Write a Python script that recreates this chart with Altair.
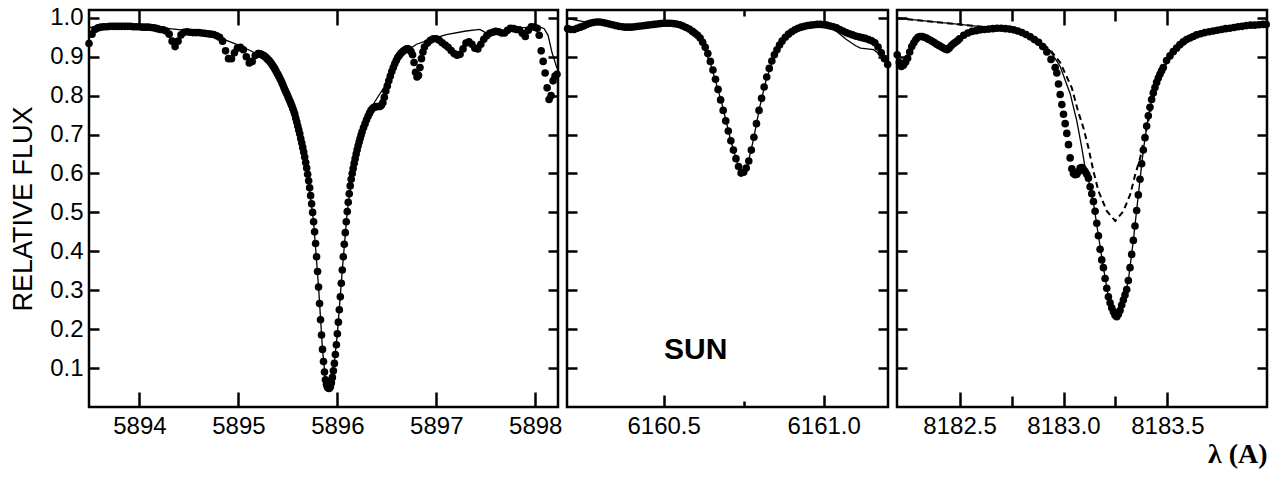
import altair as alt
import pandas as pd

# ---------------- Panel 1 : 5893.5 - 5898.2 A ----------------
na_obs_wl = [
    5893.49, 5893.52, 5893.55, 5893.58, 5893.61, 5893.64, 5893.67, 5893.70, 5893.73, 5893.76,
    5893.79, 5893.82, 5893.85, 5893.88, 5893.91, 5893.94, 5893.97, 5894.00, 5894.03, 5894.06,
    5894.09, 5894.12, 5894.15, 5894.18, 5894.21, 5894.24, 5894.27, 5894.30, 5894.33, 5894.36,
    5894.39, 5894.42, 5894.45, 5894.48, 5894.51, 5894.54, 5894.57, 5894.60, 5894.63, 5894.66,
    5894.69, 5894.72, 5894.75, 5894.78, 5894.81, 5894.84, 5894.87, 5894.90, 5894.93, 5894.96,
    5894.99, 5895.02, 5895.05, 5895.08, 5895.11, 5895.14, 5895.17,
    5895.20, 5895.21, 5895.22, 5895.23, 5895.24, 5895.25, 5895.26, 5895.27, 5895.28, 5895.29,
    5895.30, 5895.31, 5895.32, 5895.33, 5895.34, 5895.35, 5895.36, 5895.37, 5895.38, 5895.39,
    5895.40, 5895.41, 5895.42, 5895.43, 5895.44, 5895.45, 5895.46, 5895.47, 5895.48, 5895.49,
    5895.50, 5895.51, 5895.52, 5895.53, 5895.54, 5895.55, 5895.56, 5895.57, 5895.58, 5895.59,
    5895.60, 5895.61, 5895.62, 5895.63, 5895.64, 5895.65, 5895.66, 5895.67, 5895.68, 5895.69,
    5895.70, 5895.71, 5895.72, 5895.73, 5895.74, 5895.75, 5895.76, 5895.77, 5895.78, 5895.79,
    5895.80, 5895.81, 5895.82, 5895.83, 5895.84, 5895.85, 5895.86, 5895.87, 5895.88, 5895.89,
    5895.90, 5895.91, 5895.92, 5895.93, 5895.94, 5895.95, 5895.96, 5895.97, 5895.98, 5895.99,
    5896.00, 5896.01, 5896.02, 5896.03, 5896.04, 5896.05, 5896.06, 5896.07, 5896.08, 5896.09,
    5896.10, 5896.11, 5896.12, 5896.13, 5896.14, 5896.15, 5896.16, 5896.17, 5896.18, 5896.19,
    5896.20, 5896.21, 5896.22, 5896.23, 5896.24, 5896.25,
    5896.265, 5896.280, 5896.295, 5896.310, 5896.325, 5896.340, 5896.355, 5896.370, 5896.385, 5896.400,
    5896.415, 5896.430, 5896.445, 5896.460, 5896.475, 5896.490, 5896.505, 5896.520, 5896.535, 5896.550,
    5896.565, 5896.580, 5896.595, 5896.610, 5896.625, 5896.640, 5896.655, 5896.670, 5896.685, 5896.700,
    5896.715, 5896.730, 5896.745, 5896.760, 5896.775, 5896.790, 5896.805, 5896.820, 5896.835, 5896.850,
    5896.865,
    5896.88, 5896.91, 5896.94, 5896.97, 5897.00, 5897.03, 5897.06, 5897.09, 5897.12, 5897.15,
    5897.18, 5897.21, 5897.24, 5897.27, 5897.30, 5897.33, 5897.36, 5897.39, 5897.42, 5897.45,
    5897.48, 5897.51, 5897.54, 5897.57, 5897.60, 5897.63, 5897.66, 5897.69, 5897.72, 5897.75,
    5897.78, 5897.81, 5897.84, 5897.87, 5897.90, 5897.93, 5897.96, 5897.99, 5898.02,
    5898.04, 5898.06, 5898.08, 5898.10, 5898.12, 5898.14, 5898.16, 5898.18, 5898.20, 5898.22,
]
na_obs_flux = [
    0.934, 0.958, 0.970, 0.974, 0.976, 0.977, 0.977, 0.978, 0.978, 0.978,
    0.978, 0.978, 0.978, 0.978, 0.978, 0.977, 0.977, 0.977, 0.976, 0.976,
    0.976, 0.975, 0.974, 0.972, 0.970, 0.969, 0.966, 0.958, 0.940, 0.926,
    0.940, 0.956, 0.963, 0.964, 0.963, 0.962, 0.962, 0.962, 0.961, 0.960,
    0.959, 0.958, 0.957, 0.954, 0.950, 0.940, 0.915, 0.895, 0.895, 0.910,
    0.922, 0.924, 0.918, 0.900, 0.884, 0.888, 0.903,
    0.908, 0.908, 0.907, 0.906, 0.905, 0.903, 0.902, 0.900, 0.898, 0.895,
    0.892, 0.890, 0.887, 0.884, 0.880, 0.876, 0.872, 0.868, 0.863, 0.858,
    0.854, 0.849, 0.844, 0.839, 0.833, 0.827, 0.821, 0.815, 0.809, 0.804,
    0.798, 0.792, 0.786, 0.780, 0.774, 0.767, 0.760, 0.752, 0.742, 0.732,
    0.722, 0.712, 0.702, 0.690, 0.679, 0.667, 0.655, 0.642, 0.628, 0.614,
    0.598, 0.581, 0.563, 0.543, 0.522, 0.500, 0.476, 0.450, 0.420, 0.386,
    0.348, 0.308, 0.266, 0.224, 0.185, 0.148, 0.117, 0.090, 0.070, 0.058,
    0.051, 0.048, 0.048, 0.052, 0.062, 0.076, 0.093, 0.112, 0.135, 0.160,
    0.188, 0.218, 0.250, 0.283, 0.318, 0.352, 0.386, 0.418, 0.448, 0.476,
    0.502, 0.526, 0.548, 0.568, 0.585, 0.600, 0.613, 0.626, 0.638, 0.650,
    0.661, 0.671, 0.681, 0.690, 0.699, 0.707,
    0.718, 0.728, 0.738, 0.747, 0.755, 0.762, 0.767, 0.770, 0.771, 0.772,
    0.772, 0.772, 0.775, 0.782, 0.796, 0.812, 0.825, 0.838, 0.850, 0.862,
    0.872, 0.882, 0.890, 0.898, 0.903, 0.908, 0.912, 0.915, 0.918, 0.920,
    0.920, 0.918, 0.913, 0.905, 0.885, 0.860, 0.848, 0.852, 0.872, 0.895,
    0.912,
    0.925, 0.935, 0.942, 0.946, 0.946, 0.942, 0.936, 0.930, 0.924, 0.916,
    0.908, 0.904, 0.906, 0.920, 0.935, 0.938, 0.932, 0.922, 0.920, 0.932,
    0.945, 0.954, 0.960, 0.963, 0.965, 0.964, 0.961, 0.961, 0.968, 0.973,
    0.972, 0.970, 0.969, 0.960, 0.952, 0.968, 0.977, 0.976, 0.973,
    0.955, 0.915, 0.888, 0.858, 0.820, 0.790, 0.800, 0.838, 0.850, 0.855,
]
na_mod_wl = [
    5893.49, 5893.80, 5894.10, 5894.30, 5894.50, 5894.70, 5894.88, 5895.00, 5895.15, 5895.30,
    5895.45, 5895.55, 5895.62, 5895.69, 5895.76, 5895.81, 5895.85, 5895.88, 5895.92, 5895.96,
    5896.00, 5896.05, 5896.10, 5896.16, 5896.22, 5896.30, 5896.38, 5896.50, 5896.60, 5896.70,
    5896.80, 5896.95, 5897.10, 5897.30, 5897.44, 5897.54, 5897.60, 5897.75, 5897.95, 5898.05,
    5898.09, 5898.13, 5898.17, 5898.22,
]
na_mod_flux = [
    0.975, 0.979, 0.977, 0.972, 0.967, 0.962, 0.942, 0.930, 0.912, 0.888,
    0.835, 0.770, 0.702, 0.614, 0.476, 0.308, 0.148, 0.070, 0.048, 0.093,
    0.188, 0.352, 0.502, 0.613, 0.681, 0.742, 0.785, 0.832, 0.885, 0.915,
    0.932, 0.945, 0.957, 0.966, 0.970, 0.956, 0.962, 0.972, 0.976, 0.976,
    0.972, 0.955, 0.910, 0.870,
]

# ---------------- Panel 2 : 6160.2 - 6161.2 A ----------------
fe_obs_wl = [
    6160.20, 6160.21, 6160.22, 6160.23, 6160.24, 6160.25, 6160.26, 6160.27, 6160.28, 6160.29,
    6160.30, 6160.31, 6160.32, 6160.33, 6160.34, 6160.35, 6160.36, 6160.37, 6160.38, 6160.39,
    6160.40, 6160.41, 6160.42, 6160.43, 6160.44, 6160.45, 6160.46, 6160.47, 6160.48, 6160.49,
    6160.50, 6160.51, 6160.52, 6160.53, 6160.54, 6160.55, 6160.56, 6160.57, 6160.58, 6160.59,
    6160.598,
    6160.606, 6160.614, 6160.622, 6160.630, 6160.638, 6160.646, 6160.654, 6160.662, 6160.670, 6160.678,
    6160.686, 6160.694, 6160.702, 6160.710, 6160.718, 6160.726, 6160.734, 6160.742, 6160.750, 6160.758,
    6160.766, 6160.774, 6160.782, 6160.790, 6160.798, 6160.806, 6160.814, 6160.822, 6160.830, 6160.838,
    6160.846, 6160.854, 6160.862,
    6160.87, 6160.88, 6160.89, 6160.90, 6160.91, 6160.92, 6160.93, 6160.94, 6160.95, 6160.96,
    6160.97, 6160.98, 6160.99, 6161.00, 6161.01, 6161.02, 6161.03, 6161.04, 6161.05, 6161.06,
    6161.07, 6161.08, 6161.09, 6161.10, 6161.11, 6161.12, 6161.13, 6161.14, 6161.15, 6161.16,
    6161.17, 6161.18, 6161.19, 6161.20,
]
fe_obs_flux = [
    0.972, 0.970, 0.970, 0.973, 0.976, 0.979, 0.983, 0.986, 0.988, 0.989,
    0.989, 0.988, 0.986, 0.984, 0.982, 0.980, 0.978, 0.977, 0.976, 0.976,
    0.976, 0.977, 0.978, 0.979, 0.980, 0.981, 0.982, 0.983, 0.984, 0.985,
    0.986, 0.986, 0.986, 0.985, 0.984, 0.982, 0.979, 0.975, 0.971, 0.965,
    0.960,
    0.955, 0.948, 0.937, 0.924, 0.908, 0.888, 0.866, 0.842, 0.816, 0.789,
    0.762, 0.735, 0.709, 0.684, 0.660, 0.638, 0.618, 0.601, 0.603, 0.614,
    0.632, 0.660, 0.693, 0.728, 0.762, 0.793, 0.822, 0.848, 0.870, 0.889,
    0.905, 0.918, 0.930,
    0.940, 0.950, 0.958, 0.964, 0.969, 0.973, 0.976, 0.978, 0.980, 0.981,
    0.982, 0.983, 0.983, 0.982, 0.981, 0.979, 0.977, 0.974, 0.970, 0.966,
    0.962, 0.959, 0.956, 0.953, 0.951, 0.949, 0.947, 0.944, 0.941, 0.936,
    0.925, 0.910, 0.895, 0.880,
]
fe_mod_wl = [
    6160.20, 6160.25, 6160.29, 6160.35, 6160.40, 6160.50, 6160.55, 6160.60, 6160.62, 6160.65,
    6160.68, 6160.71, 6160.73, 6160.746, 6160.76, 6160.78, 6160.80, 6160.82, 6160.85, 6160.88,
    6160.93, 6160.98, 6161.03, 6161.07, 6161.10, 6161.115, 6161.156, 6161.177, 6161.20,
]
fe_mod_flux = [
    0.998, 0.990, 0.989, 0.980, 0.976, 0.986, 0.982, 0.960, 0.938, 0.872,
    0.786, 0.684, 0.628, 0.602, 0.614, 0.685, 0.770, 0.840, 0.912, 0.950,
    0.976, 0.983, 0.972, 0.945, 0.928, 0.922, 0.918, 0.905, 0.882,
]

# ---------------- Panel 3 : 8182.2 - 8184.0 A ----------------
k_obs_wl = [
    8182.20, 8182.21, 8182.22, 8182.23, 8182.24, 8182.25, 8182.26, 8182.27, 8182.28, 8182.29,
    8182.30, 8182.31, 8182.32, 8182.33, 8182.34, 8182.35, 8182.36, 8182.37, 8182.38, 8182.39,
    8182.40, 8182.41, 8182.42, 8182.43, 8182.44, 8182.45, 8182.46, 8182.47, 8182.48, 8182.49,
    8182.50,
    8182.52, 8182.54, 8182.56, 8182.58, 8182.60, 8182.62, 8182.64, 8182.66, 8182.68, 8182.70,
    8182.72, 8182.74, 8182.76, 8182.78, 8182.80, 8182.82, 8182.84, 8182.86, 8182.88, 8182.90,
    8182.92, 8182.94, 8182.96,
    8182.968, 8182.976, 8182.984, 8182.992, 8183.000, 8183.008, 8183.016, 8183.024, 8183.032, 8183.040,
    8183.048, 8183.056, 8183.064, 8183.072, 8183.080, 8183.088, 8183.096, 8183.104, 8183.112, 8183.120,
    8183.128, 8183.136, 8183.144, 8183.152, 8183.160, 8183.168, 8183.176, 8183.184, 8183.192, 8183.200,
    8183.208, 8183.216, 8183.224, 8183.232, 8183.240, 8183.248, 8183.256, 8183.264, 8183.272, 8183.280,
    8183.288, 8183.296, 8183.304, 8183.312, 8183.320, 8183.328, 8183.336, 8183.344, 8183.352, 8183.360,
    8183.368, 8183.376, 8183.384, 8183.392, 8183.400, 8183.408, 8183.416, 8183.424, 8183.432, 8183.440,
    8183.448, 8183.456, 8183.464, 8183.472, 8183.480,
    8183.496, 8183.512, 8183.528, 8183.544, 8183.560, 8183.576, 8183.592, 8183.608, 8183.624, 8183.640,
    8183.66, 8183.68, 8183.70, 8183.72, 8183.74, 8183.76, 8183.78, 8183.80, 8183.82, 8183.84,
    8183.86, 8183.88, 8183.90, 8183.92, 8183.94, 8183.96, 8183.975,
]
k_obs_flux = [
    0.905, 0.885, 0.875, 0.878, 0.886, 0.896, 0.912, 0.926, 0.936, 0.944,
    0.950, 0.952, 0.952, 0.950, 0.948, 0.945, 0.942, 0.939, 0.936, 0.932,
    0.929, 0.926, 0.923, 0.920, 0.918, 0.922, 0.928, 0.933, 0.937, 0.941,
    0.946,
    0.955, 0.961, 0.965, 0.967, 0.969, 0.970, 0.971, 0.972, 0.973, 0.973,
    0.972, 0.971, 0.969, 0.966, 0.962, 0.957, 0.951, 0.944, 0.937, 0.926,
    0.912, 0.893, 0.872,
    0.858, 0.830, 0.803, 0.777, 0.752, 0.728, 0.703, 0.674, 0.640, 0.612,
    0.600, 0.597, 0.598, 0.605, 0.614, 0.615, 0.611, 0.605, 0.598, 0.588,
    0.566, 0.548, 0.528, 0.503, 0.472, 0.440, 0.405, 0.378, 0.358, 0.330,
    0.305, 0.283, 0.268, 0.255, 0.245, 0.236, 0.232, 0.238, 0.248, 0.262,
    0.275, 0.288, 0.302, 0.325, 0.358, 0.392, 0.428, 0.465, 0.505, 0.545,
    0.585, 0.625, 0.660, 0.692, 0.722, 0.748, 0.770, 0.790, 0.807, 0.821,
    0.834, 0.845, 0.855, 0.864, 0.872,
    0.890, 0.902, 0.913, 0.922, 0.931, 0.938, 0.944, 0.948, 0.952, 0.956,
    0.959, 0.962, 0.964, 0.966, 0.968, 0.970, 0.972, 0.973, 0.975, 0.977,
    0.978, 0.980, 0.981, 0.981, 0.982, 0.983, 0.983,
]
k_mod_wl = [
    8182.20, 8182.50, 8182.68, 8182.79, 8182.888, 8182.936, 8182.984, 8183.032, 8183.064, 8183.088,
    8183.104, 8183.120, 8183.128, 8183.144, 8183.168, 8183.192, 8183.216, 8183.232, 8183.253, 8183.272,
    8183.296, 8183.312, 8183.336, 8183.360, 8183.384, 8183.408, 8183.432, 8183.456, 8183.480, 8183.529,
    8183.641, 8183.80, 8183.978,
]
k_mod_flux = [
    0.999, 0.983, 0.973, 0.963, 0.937, 0.915, 0.875, 0.805, 0.735, 0.666,
    0.615, 0.585, 0.563, 0.525, 0.440, 0.358, 0.283, 0.255, 0.232, 0.248,
    0.288, 0.325, 0.428, 0.545, 0.660, 0.748, 0.807, 0.845, 0.872, 0.914,
    0.956, 0.973, 0.983,
]
k_mod2_wl = [
    8182.20, 8182.50, 8182.68, 8182.79, 8182.888, 8182.936, 8182.984, 8183.04, 8183.07, 8183.096,
    8183.12, 8183.144, 8183.168, 8183.209, 8183.249, 8183.288, 8183.321, 8183.345, 8183.369, 8183.385,
    8183.401, 8183.42, 8183.441, 8183.473, 8183.529, 8183.641, 8183.80, 8183.978,
]
k_mod2_flux = [
    0.999, 0.983, 0.973, 0.963, 0.937, 0.918, 0.885, 0.820, 0.760, 0.717,
    0.666, 0.606, 0.555, 0.503, 0.478, 0.503, 0.546, 0.597, 0.640, 0.683,
    0.717, 0.764, 0.815, 0.862, 0.914, 0.956, 0.973, 0.983,
]

# ---------------- axes / labels ----------------
y_tick_values = [0.1, 0.2, 0.3, 0.4, 0.5, 0.6, 0.7, 0.8, 0.9, 1.0]
p1_labels = [5894, 5895, 5896, 5897, 5898]
p1_ticks = [5894, 5895, 5896, 5897, 5898]
p2_labels = [6160.5, 6161.0]
p2_ticks = [6160.5, 6160.75, 6161.0]
p3_labels = [8182.5, 8183.0, 8183.5]
p3_ticks = [8182.5, 8182.75, 8183.0, 8183.25, 8183.5]
note_text = ["SUN"]

FONT = "Liberation Sans"
H = 397
Y_DOMAIN = [0.0, 1.02]
MINOR_TEST = "abs(datum.value * 2 - round(datum.value * 2)) > 0.01"
DOT = 58


def tick_axis(orient, offset, values, size):
    return alt.Axis(orient=orient, offset=offset, values=values, labels=False,
                    domain=False, grid=False, ticks=True, tickSize=size,
                    tickWidth=2.5, tickColor="black")


def panel(obs_wl, obs_flux, models, x_domain, label_values, label_format,
          tick_values, tick_size, width, first=False, x_title=None, note=None):
    obs = pd.DataFrame({"wl": obs_wl, "flux": obs_flux})
    xs = alt.Scale(domain=x_domain, nice=False, zero=False)
    ys = alt.Scale(domain=Y_DOMAIN, nice=False, zero=False)

    x_lab = alt.Axis(orient="bottom", values=label_values, format=label_format,
                     ticks=False, domain=False, grid=False, labelFont=FONT,
                     labelFontSize=24, labelColor="black", labelPadding=7,
                     labelFlush=False, labelOverlap=False,
                     titleFont="Liberation Serif", titleFontSize=28,
                     titleFontWeight="bold", titleColor="black",
                     titleAnchor="end", titlePadding=2)
    if first:
        y_main = alt.Y("flux:Q", scale=ys, title="RELATIVE FLUX",
                       axis=alt.Axis(orient="left", values=y_tick_values, format=".1f",
                                     ticks=False, domain=False, grid=False,
                                     labelFont=FONT, labelFontSize=24, labelColor="black",
                                     labelPadding=6, labelOverlap=False, labelFlush=False,
                                     titleFont=FONT, titleFontSize=27,
                                     titleFontWeight="normal", titleColor="black",
                                     titlePadding=12))
    else:
        y_main = alt.Y("flux:Q", scale=ys, axis=None)

    layers = []
    layers.append(
        alt.Chart(obs).mark_circle(size=DOT, color="black", opacity=1).encode(
            x=alt.X("wl:Q", scale=xs, axis=x_lab, title=x_title), y=y_main)
    )
    # invisible carrier of two inward tick axes (top edge ticks, left edge ticks)
    layers.append(
        alt.Chart(obs).mark_point(opacity=0).encode(
            x=alt.X("wl:Q", scale=xs, title=None,
                    axis=tick_axis("bottom", -H, tick_values, tick_size)),
            y=alt.Y("flux:Q", scale=ys, title=None,
                    axis=tick_axis("right", -width, y_tick_values, 10)))
    )
    for i, (mwl, mfl, dashed) in enumerate(models):
        mdf = pd.DataFrame({"wl": mwl, "flux": mfl})
        if dashed:
            mk = alt.Chart(mdf).mark_line(color="black", strokeWidth=2, strokeDash=[6, 4])
        else:
            mk = alt.Chart(mdf).mark_line(color="black", strokeWidth=1.3)
        if i == 0:
            enc = dict(
                x=alt.X("wl:Q", scale=xs, title=None,
                        axis=tick_axis("top", -H, tick_values, tick_size)),
                y=alt.Y("flux:Q", scale=ys, title=None,
                        axis=tick_axis("left", -width, y_tick_values, 10)))
        else:
            enc = dict(x=alt.X("wl:Q", scale=xs, axis=None),
                       y=alt.Y("flux:Q", scale=ys, axis=None))
        layers.append(mk.encode(**enc))
    if note is not None:
        ndf = pd.DataFrame({"label": note_text})
        layers.append(
            alt.Chart(ndf).mark_text(font=FONT, fontSize=30, fontWeight="bold",
                                     color="black", align="center", baseline="middle").encode(
                x=alt.XDatum(note[0], scale=xs, axis=None),
                y=alt.YDatum(note[1], scale=ys, axis=None),
                text="label:N")
        )
    return alt.layer(*layers).resolve_axis(x="independent", y="independent").properties(
        width=width, height=H)


minor2 = {"condition": {"test": MINOR_TEST, "value": 6}, "value": 12}
minor3 = {"condition": {"test": MINOR_TEST, "value": 11}, "value": 15}

p1 = panel(na_obs_wl, na_obs_flux, [(na_mod_wl, na_mod_flux, False)],
           [5893.49, 5898.23], p1_labels, "d", p1_ticks, 15, 469, first=True)
p2 = panel(fe_obs_wl, fe_obs_flux, [(fe_mod_wl, fe_mod_flux, False)],
           [6160.198, 6161.201], p2_labels, ".1f", p2_ticks, minor2, 321,
           note=(6160.60, 0.146))
p3 = panel(k_obs_wl, k_obs_flux, [(k_mod_wl, k_mod_flux, False), (k_mod2_wl, k_mod2_flux, True)],
           [8182.199, 8183.979], p3_labels, ".1f", p3_ticks, minor3, 370,
           x_title="λ (A)")

chart = alt.hconcat(p1, p2, p3, spacing=9, bounds="flush").resolve_scale(
    x="independent", y="independent"
).properties(
    padding={"left": 8, "top": 4, "right": 12, "bottom": 0},
    background="white",
).configure_view(stroke="black", strokeWidth=2.5)

chart.save("out.html", embed_options={"renderer": "svg", "actions": False})
